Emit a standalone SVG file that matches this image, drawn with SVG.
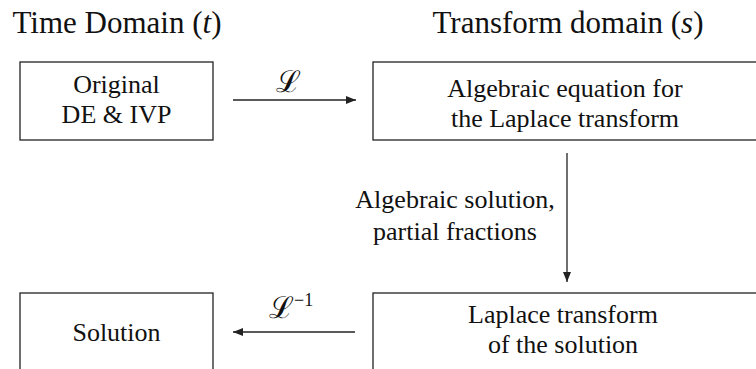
<svg xmlns="http://www.w3.org/2000/svg" width="756" height="369" viewBox="0 0 756 369">
<style>
text{font-family:"Liberation Serif",serif;fill:#111}
.t{font-size:26px;text-anchor:middle}
.title{font-size:31px;text-anchor:middle}
.m{font-family:"DejaVu Serif",serif;font-size:30px}
.sup{font-family:"Liberation Serif",serif;font-size:18px}
.box{fill:none;stroke:#222;stroke-width:1.3}
.c{stroke:#222;stroke-width:1.3;fill:none}
</style>
<defs>
<marker id="ah" viewBox="0 0 10 8" refX="10" refY="4" markerWidth="10" markerHeight="8" markerUnits="userSpaceOnUse" orient="auto">
<path d="M0,0 L10,4 L0,8 z" fill="#222"/>
</marker>
</defs>
<text class="title" x="117" y="33">Time Domain (<tspan font-style="italic">t</tspan>)</text>
<text class="title" x="568" y="33">Transform domain (<tspan font-style="italic">s</tspan>)</text>
<g id="original">
<rect class="box" x="20" y="62" width="193" height="78"/>
<text class="t" x="116.5" y="93">Original</text>
<text class="t" x="116.5" y="123">DE &amp; IVP</text>
</g>
<g id="algebraic">
<rect class="box" x="373" y="62" width="400" height="78"/>
<text class="t" x="565" y="97">Algebraic equation for</text>
<text class="t" x="565" y="127">the Laplace transform</text>
</g>
<g id="laplace-solution">
<rect class="box" x="373" y="293" width="400" height="100"/>
<text class="t" x="563" y="323">Laplace transform</text>
<text class="t" x="563" y="353">of the solution</text>
</g>
<g id="solution">
<rect class="box" x="20" y="293" width="193" height="100"/>
<text class="t" x="116.5" y="341">Solution</text>
</g>
<g id="connectors">
<line class="c" x1="233" y1="100" x2="356" y2="100" marker-end="url(#ah)"/>
<text class="m" x="288" y="92" text-anchor="middle">ℒ</text>
<line class="c" x1="567" y1="153" x2="567" y2="282" marker-end="url(#ah)"/>
<text class="t" x="455" y="208">Algebraic solution,</text>
<text class="t" x="455" y="240">partial fractions</text>
<line class="c" x1="355" y1="332" x2="233" y2="332" marker-end="url(#ah)"/>
<text class="m" x="269" y="318">ℒ<tspan class="sup" dy="-12">−1</tspan></text>
</g>
</svg>
